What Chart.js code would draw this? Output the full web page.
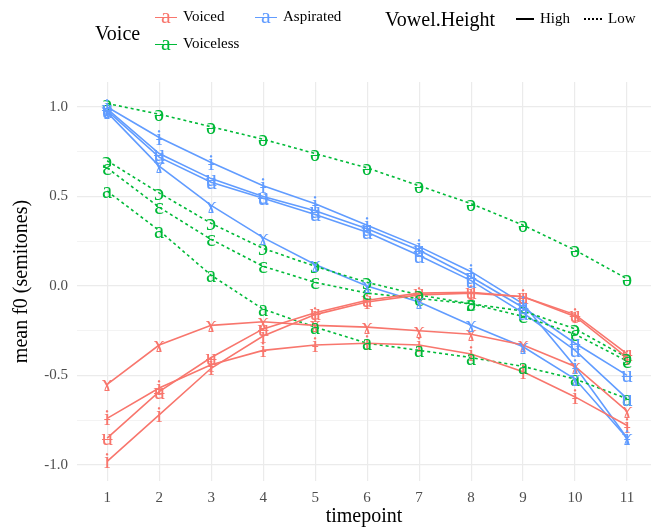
<!DOCTYPE html>
<html>
<head>
<meta charset="utf-8">
<script src="https://cdn.jsdelivr.net/npm/chart.js@4.4.1/dist/chart.umd.min.js"></script>
<style>
  html, body { margin: 0; padding: 0; background: #fff; }
  #wrap { position: relative; width: 652px; height: 531px; font-family: "Liberation Serif", serif; color: #000; }
  #chart { position: absolute; left: 0; top: 0; }
  .lg { position: absolute; white-space: nowrap; line-height: 1; }
  .ttl { font-size: 20px; }
  .itm { font-size: 15px; }
  .key { position: absolute; width: 22px; height: 20px; }
  .key .ln { position: absolute; left: 0; right: 0; top: 11px; height: 0; border-top: 1.5px solid; }
  .key .ch { position: absolute; left: -4px; right: -4px; top: -1px; text-align: center; font-size: 22px; line-height: 22px; }
  .hk { position: absolute; width: 18px; height: 0; border-top: 2px solid #000; }
  .hk.dot { border-top: 2px dotted #000; }
</style>
</head>
<body>
<div id="wrap">
  <canvas id="chart" width="652" height="531"></canvas>

  <div class="lg ttl" style="left:95px; top:23px;">Voice</div>
  <div class="key" style="left:155px; top:6px; color:#F8766D;"><div class="ln"></div><div class="ch">a</div></div>
  <div class="lg itm" style="left:183px; top:9px;">Voiced</div>
  <div class="key" style="left:255px; top:6px; color:#619CFF;"><div class="ln"></div><div class="ch">a</div></div>
  <div class="lg itm" style="left:283px; top:9px;">Aspirated</div>
  <div class="key" style="left:155px; top:33px; color:#00BA38;"><div class="ln"></div><div class="ch">a</div></div>
  <div class="lg itm" style="left:183px; top:36px;">Voiceless</div>

  <div class="lg ttl" style="left:385px; top:9px;">Vowel.Height</div>
  <div class="hk" style="left:516px; top:18px;"></div>
  <div class="lg itm" style="left:540px; top:11px;">High</div>
  <div class="hk dot" style="left:584px; top:18px;"></div>
  <div class="lg itm" style="left:608px; top:11px;">Low</div>
</div>

<script>
/* mean f0 trajectories by voice and vowel */
const timepoints = [1, 2, 3, 4, 5, 6, 7, 8, 9, 10, 11];
const yTicks = [-1, -0.75, -0.5, -0.25, 0, 0.25, 0.5, 0.75, 1];

// Voiced, high vowels
const voicedGamma = [-0.55, -0.33, -0.22, -0.20, -0.22, -0.23, -0.25, -0.27, -0.33, -0.45, -0.70];
const voicedBarI  = [-0.74, -0.57, -0.44, -0.36, -0.33, -0.32, -0.33, -0.38, -0.48, -0.62, -0.78];
const voicedBarU  = [-0.85, -0.59, -0.40, -0.24, -0.15, -0.08, -0.04, -0.035, -0.06, -0.16, -0.38];
const voicedI     = [-0.98, -0.72, -0.46, -0.28, -0.16, -0.09, -0.05, -0.04, -0.06, -0.17, -0.40];

// Aspirated, high vowels
const aspI     = [1.00, 0.83, 0.69, 0.56, 0.46, 0.34, 0.22, 0.08, -0.10, -0.45, -0.85];
const aspBarI  = [0.99, 0.74, 0.60, 0.50, 0.42, 0.32, 0.20, 0.05, -0.12, -0.32, -0.50];
const aspBarU  = [0.98, 0.72, 0.58, 0.49, 0.40, 0.30, 0.17, 0.03, -0.15, -0.36, -0.63];
const aspGamma = [0.97, 0.67, 0.45, 0.27, 0.12, 0.00, -0.09, -0.22, -0.34, -0.52, -0.85];

// Voiceless, low vowels
const vlSchwa = [1.02, 0.96, 0.89, 0.82, 0.74, 0.66, 0.56, 0.46, 0.34, 0.20, 0.04];
const vlOpenO = [0.70, 0.52, 0.35, 0.21, 0.11, 0.02, -0.05, -0.10, -0.14, -0.24, -0.40];
const vlOpenE = [0.66, 0.44, 0.26, 0.11, 0.02, -0.04, -0.07, -0.10, -0.17, -0.27, -0.42];
const vlA     = [0.53, 0.31, 0.06, -0.13, -0.23, -0.32, -0.36, -0.40, -0.45, -0.52, -0.63];

const voiceColors = { Voiced: '#F8766D', Voiceless: '#00BA38', Aspirated: '#619CFF' };

const series = [
  { voice: 'Voiced',    height: 'High', vowel: 'ɤ', values: voicedGamma },
  { voice: 'Voiced',    height: 'High', vowel: 'ɨ', values: voicedBarI },
  { voice: 'Voiced',    height: 'High', vowel: 'ʉ', values: voicedBarU },
  { voice: 'Voiced',    height: 'High', vowel: 'i', values: voicedI },
  { voice: 'Voiceless', height: 'Low',  vowel: 'ə', values: vlSchwa },
  { voice: 'Voiceless', height: 'Low',  vowel: 'ɔ', values: vlOpenO },
  { voice: 'Voiceless', height: 'Low',  vowel: 'ɛ', values: vlOpenE },
  { voice: 'Voiceless', height: 'Low',  vowel: 'a', values: vlA },
  { voice: 'Aspirated', height: 'High', vowel: 'ɨ', values: aspI },
  { voice: 'Aspirated', height: 'High', vowel: 'ʉ', values: aspBarI },
  { voice: 'Aspirated', height: 'High', vowel: 'u', values: aspBarU },
  { voice: 'Aspirated', height: 'High', vowel: 'ɤ', values: aspGamma }
];

const FONT = '"Liberation Serif", serif';

function isMajor(v) { return Math.abs(v * 2 - Math.round(v * 2)) < 1e-9; }

const vowelLabels = {
  id: 'vowelLabels',
  afterDatasetsDraw(chart) {
    const ctx = chart.ctx;
    ctx.save();
    ctx.font = '23px ' + FONT;
    ctx.textAlign = 'center';
    ctx.textBaseline = 'middle';
    chart.data.datasets.forEach((ds, i) => {
      const meta = chart.getDatasetMeta(i);
      ctx.fillStyle = ds.borderColor;
      meta.data.forEach(pt => ctx.fillText(ds.vowel, pt.x, pt.y + 1));
    });
    ctx.restore();
  }
};

new Chart(document.getElementById('chart').getContext('2d'), {
  type: 'line',
  data: {
    datasets: series.map(s => ({
      label: s.voice + ' ' + s.vowel,
      vowel: s.vowel,
      data: s.values.map((v, i) => ({ x: timepoints[i], y: v })),
      borderColor: voiceColors[s.voice],
      borderWidth: 1.6,
      borderDash: s.height === 'Low' ? [3, 3] : [],
      pointRadius: 0,
      fill: false,
      tension: 0
    }))
  },
  options: {
    responsive: false,
    animation: false,
    devicePixelRatio: 1,
    layout: { padding: { top: 82, right: 1, left: 0, bottom: 0 } },
    plugins: { legend: { display: false }, tooltip: { enabled: false } },
    scales: {
      x: {
        type: 'linear',
        min: 0.42,
        max: 11.46,
        afterBuildTicks: s => { s.ticks = timepoints.map(v => ({ value: v })); },
        afterFit: s => { s.height = 50; },
        border: { display: false },
        grid: { color: '#ebebeb', lineWidth: 1.2, drawTicks: false },
        ticks: { color: '#4d4d4d', font: { family: FONT, size: 15 }, padding: 8, maxRotation: 0, callback: v => String(v) },
        title: { display: true, text: 'timepoint', color: '#000', font: { family: FONT, size: 20 }, padding: { top: 0, bottom: 2 } }
      },
      y: {
        min: -1.09,
        max: 1.14,
        afterBuildTicks: s => { s.ticks = yTicks.map(v => ({ value: v })); },
        afterFit: s => { s.width = 77; },
        border: { display: false },
        grid: {
          drawTicks: false,
          color: '#ebebeb',
          lineWidth: c => (c.tick && isMajor(c.tick.value)) ? 1.2 : 0.6
        },
        ticks: {
          color: '#4d4d4d',
          font: { family: FONT, size: 15 },
          padding: 9,
          callback: v => isMajor(v) ? v.toFixed(1) : ''
        },
        title: { display: true, text: 'mean f0 (semitones)', color: '#000', font: { family: FONT, size: 20 }, padding: { top: 10, bottom: 0 } }
      }
    }
  },
  plugins: [vowelLabels]
});
</script>
</body>
</html>
